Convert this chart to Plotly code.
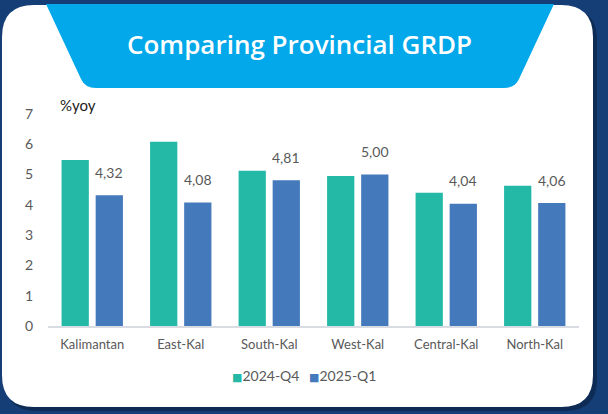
import plotly.graph_objects as go

categories = ["Kalimantan", "East-Kal", "South-Kal", "West-Kal", "Central-Kal", "North-Kal"]
q4_2024 = [5.48, 6.08, 5.13, 4.95, 4.40, 4.63]
q1_2025 = [4.32, 4.08, 4.81, 5.00, 4.04, 4.06]
series_names = ["2024-Q4", "2025-Q1"]
y_ticks = [0, 1, 2, 3, 4, 5, 6, 7]

W, H = 608, 414
ML, MR, MT, MB = 48, 29, 114, 88
PW, PH = W - ML - MR, H - MT - MB


def px(x):
    return (x - ML) / PW


def py(y):
    return (H - MB - y) / PH


def path(points):
    out = []
    for cmd, *pts in points:
        out.append(cmd + " " + " ".join(f"{px(a):.5f},{py(b):.5f}" for a, b in pts))
    return " ".join(out) + " Z"


def rounded_rect(x0, y0, x1, y1, r):
    return path([("M", (x0 + r, y0)), ("L", (x1 - r, y0)), ("Q", (x1, y0), (x1, y0 + r)),
                 ("L", (x1, y1 - r)), ("Q", (x1, y1), (x1 - r, y1)), ("L", (x0 + r, y1)),
                 ("Q", (x0, y1), (x0, y1 - r)), ("L", (x0, y0 + r)), ("Q", (x0, y0), (x0 + r, y0))])


TEAL = "#23b9a6"
BLUE = "#4479bb"
GRAY = "#595959"
FONT = "Lato"
colors = [TEAL, BLUE]

fig = go.Figure()
for name, vals, col in zip(series_names, [q4_2024, q1_2025], colors):
    fig.add_trace(go.Bar(x=categories, y=vals, name=name, marker=dict(color=col, line=dict(width=0))))

annotations = []
for c, v in zip(categories, q1_2025):
    annotations.append(dict(x=c, y=v, xref="x", yref="y", text=f"{v:.2f}".replace(".", ","),
                            showarrow=False, xshift=17, yshift=23, yanchor="middle",
                            font=dict(family=FONT, size=14, color=GRAY)))

annotations.append(dict(x=px(299), y=py(44), xref="paper", yref="paper", text="Comparing Provincial GRDP",
                        showarrow=False, xanchor="center", yanchor="middle",
                        font=dict(family="Open Sans", size=26, color="white", weight=600)))
annotations.append(dict(x=px(58), y=py(105), xref="paper", yref="paper", text="%yoy",
                        showarrow=False, xanchor="left", yanchor="middle",
                        font=dict(family=FONT, size=15, color="#222222")))

# legend (series names with coloured square glyphs)
for name, col, lx in zip(series_names, colors, [230, 307]):
    annotations.append(dict(x=px(lx), y=py(375), xref="paper", yref="paper",
                            text=f'<span style="font-family:DejaVu Sans;font-size:11px;color:{col}">■</span>{name}',
                            showarrow=False, xanchor="left", yanchor="middle",
                            font=dict(family=FONT, size=14, color=GRAY)))

shapes = [
    dict(type="path", xref="paper", yref="paper", layer="below", line=dict(width=0),
         fillcolor="rgba(5,20,45,0.45)", path=rounded_rect(5, 8, 597, 411, 32)),
    dict(type="path", xref="paper", yref="paper", layer="below", line=dict(width=0),
         fillcolor="white", path=rounded_rect(2, 5, 593, 407, 32)),
    dict(type="path", xref="paper", yref="paper", layer="below", line=dict(width=0),
         fillcolor="#02a8ea",
         path=path([("M", (46, 4)), ("L", (554, 4)), ("L", (519, 79)), ("Q", (515, 88), (504, 88)),
                    ("L", (96, 88)), ("Q", (85, 88), (81, 79))])),
]

fig.update_layout(
    width=W, height=H,
    margin=dict(l=ML, r=MR, t=MT, b=MB, pad=0),
    paper_bgcolor="#143e75",
    plot_bgcolor="rgba(0,0,0,0)",
    barmode="group", bargap=0.23, bargroupgap=0.2,
    font=dict(family=FONT, color=GRAY, size=13),
    showlegend=False,
    xaxis=dict(showgrid=False, showline=True, linecolor="#d9dde3", linewidth=2,
               ticks="outside", ticklen=5, tickcolor="rgba(0,0,0,0)",
               tickfont=dict(family=FONT, size=13, color=GRAY), fixedrange=True),
    yaxis=dict(range=[0, 7], tickvals=y_ticks, showgrid=False, zeroline=False, showline=False,
               ticks="", ticklabelstandoff=14, tickfont=dict(family=FONT, size=14, color=GRAY), fixedrange=True),
    annotations=annotations,
    shapes=shapes,
)

fig.write_html("out.html", config={"displayModeBar": False},
               post_script="document.body.style.margin='0';document.body.style.overflow='hidden';")
